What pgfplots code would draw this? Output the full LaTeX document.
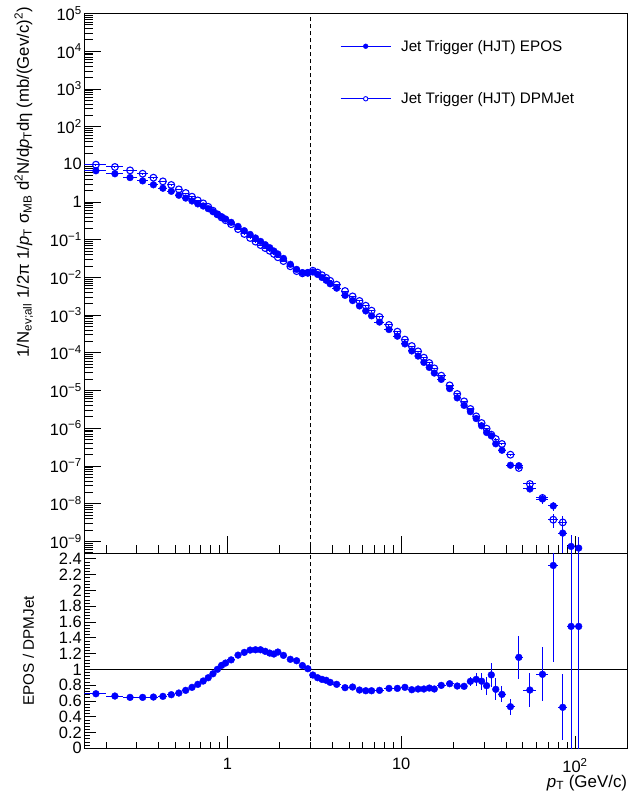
\documentclass[border=0pt]{standalone}
\usepackage{fontspec}
\setmainfont{Liberation Sans}
\usepackage{pgfplots}
\pgfplotsset{compat=1.18}
\usepackage{pgfplotstable}

\pgfplotstableread{
x xe y ye
0.175 0.025 6.74 0.07
0.225 0.025 5.61 0.06
0.275 0.025 4.44 0.05
0.325 0.025 3.63 0.04
0.375 0.025 2.86 0.03
0.425 0.025 2.32 0.02
0.475 0.025 1.92 0.02
0.525 0.025 1.51 0.015
0.575 0.025 1.27 0.013
0.625 0.025 1.065 0.011
0.675 0.025 0.891 0.009
0.725 0.025 0.782 0.008
0.775 0.025 0.665 0.007
0.825 0.025 0.553 0.006
0.875 0.025 0.470 0.005
0.925 0.025 0.407 0.004
0.975 0.025 0.354 0.004
1.05 0.05 0.288 0.003
1.15 0.05 0.225 0.002
1.25 0.05 0.173 0.002
1.35 0.05 0.138 0.0015
1.45 0.05 0.111 0.0012
1.55 0.05 0.090 0.001
1.65 0.05 0.0736 0.0008
1.75 0.05 0.0613 0.0007
1.85 0.05 0.050 0.0006
1.95 0.05 0.0417 0.0005
2.1 0.1 0.0319 0.0004
2.3 0.1 0.0222 0.0003
2.5 0.1 0.0163 0.0002
2.7 0.1 0.0134 0.0002
2.9 0.1 0.0133 0.0002
3.1 0.1 0.0139 0.0002
3.3 0.1 0.0120 0.0002
3.5 0.1 0.00995 0.00015
3.7 0.1 0.00835 0.00013
3.9 0.1 0.00676 0.0001
4.25 0.25 0.00518 0.00008
4.75 0.25 0.00334 0.00005
5.25 0.25 0.00243 0.00004
5.75 0.25 0.00175 0.00003
6.25 0.25 0.00129 0.00002
6.75 0.25 0.000955 0.000015
7.5 0.5 0.000653 0.00001
8.5 0.5 0.000414 0.000007
9.5 0.5 0.000276 0.000005
10.5 0.5 0.000172 0.000004
11.5 0.5 0.000112 0.000003
12.5 0.5 8.19e-5 2e-6
13.5 0.5 5.56e-5 1.5e-6
14.5 0.5 4.09e-5 1.2e-6
15.5 0.5 2.90e-5 1e-6
17 1 1.97e-5 6e-7
19 1 1.12e-5 4e-7
21 1 6.37e-6 2.5e-7
23 1 4.03e-6 1.8e-7
25 1 2.74e-6 1.5e-7
27 1 1.80e-6 1.1e-7
29 1 1.16e-6 8e-8
31 1 7.69e-7 6e-8
33 1 6.26e-7 5e-8
35 1 3.85e-7 4e-8
38 2 2.60e-7 2e-8
42.5 2.5 1.04e-7 1.1e-8
47.5 2.5 1.01e-7 1.2e-8
55 5 2.44e-8 3e-9
65 5 1.32e-8 3.4e-9
75 5 8.66e-9 2.2e-9
85 5 1.65e-9 1.55e-9
95 5 7.3e-10 7.2e-10
105 5 6.6e-10 6.5e-10
}\epos

\pgfplotstableread{
x xe y ye
0.175 0.025 9.76 0.1
0.225 0.025 8.48 0.08
0.275 0.025 6.89 0.07
0.325 0.025 5.63 0.06
0.375 0.025 4.41 0.04
0.425 0.025 3.52 0.03
0.475 0.025 2.83 0.03
0.525 0.025 2.16 0.02
0.575 0.025 1.73 0.02
0.625 0.025 1.38 0.014
0.675 0.025 1.10 0.011
0.725 0.025 0.918 0.009
0.775 0.025 0.744 0.007
0.825 0.025 0.586 0.006
0.875 0.025 0.470 0.005
0.925 0.025 0.388 0.004
0.975 0.025 0.328 0.003
1.05 0.05 0.257 0.003
1.15 0.05 0.191 0.002
1.25 0.05 0.142 0.0015
1.35 0.05 0.111 0.0012
1.45 0.05 0.0889 0.001
1.55 0.05 0.0721 0.0008
1.65 0.05 0.0599 0.0007
1.75 0.05 0.0508 0.0006
1.85 0.05 0.0419 0.0005
1.95 0.05 0.0342 0.0004
2.1 0.1 0.0271 0.0003
2.3 0.1 0.0197 0.0002
2.5 0.1 0.0147 0.0002
2.7 0.1 0.0128 0.0002
2.9 0.1 0.0132 0.0002
3.1 0.1 0.0150 0.0002
3.3 0.1 0.0134 0.0002
3.5 0.1 0.0114 0.00015
3.7 0.1 0.0097 0.00013
3.9 0.1 0.0081 0.0001
4.25 0.25 0.0064 0.00008
4.75 0.25 0.00435 0.00006
5.25 0.25 0.00313 0.00004
5.75 0.25 0.00237 0.00003
6.25 0.25 0.00177 0.00002
6.75 0.25 0.00131 0.000015
7.5 0.5 0.00089 0.00001
8.5 0.5 0.000546 0.000007
9.5 0.5 0.000363 0.000005
10.5 0.5 0.000223 0.000004
11.5 0.5 0.000151 0.000003
12.5 0.5 0.000109 2e-6
13.5 0.5 7.41e-5 1.5e-6
14.5 0.5 5.36e-5 1.2e-6
15.5 0.5 3.86e-5 1e-6
17 1 2.47e-5 6e-7
19 1 1.37e-5 4e-7
21 1 8.07e-6 3e-7
23 1 5.14e-6 2e-7
25 1 3.23e-6 1.5e-7
27 1 2.06e-6 1.1e-7
29 1 1.37e-6 8e-8
31 1 9.7e-7 6e-8
33 1 6.73e-7 5e-8
35 1 5.16e-7 4e-8
38 2 3.81e-7 2.5e-8
42.5 2.5 1.98e-7 1.5e-8
47.5 2.5 8.8e-8 1e-8
55 5 3.31e-8 4e-9
65 5 1.41e-8 2e-9
75 5 3.74e-9 1.5e-9
85 5 3.17e-9 1.4e-9
}\dpm

\pgfplotstableread{
x xe y ye
0.175 0.025 0.691 0.005
0.225 0.025 0.662 0.005
0.275 0.025 0.645 0.005
0.325 0.025 0.645 0.005
0.375 0.025 0.649 0.005
0.425 0.025 0.658 0.005
0.475 0.025 0.679 0.005
0.525 0.025 0.700 0.005
0.575 0.025 0.734 0.005
0.625 0.025 0.772 0.005
0.675 0.025 0.810 0.005
0.725 0.025 0.852 0.005
0.775 0.025 0.894 0.005
0.825 0.025 0.944 0.005
0.875 0.025 1.000 0.005
0.925 0.025 1.050 0.005
0.975 0.025 1.080 0.005
1.05 0.05 1.120 0.005
1.15 0.05 1.180 0.005
1.25 0.05 1.215 0.005
1.35 0.05 1.244 0.005
1.45 0.05 1.248 0.005
1.55 0.05 1.248 0.005
1.65 0.05 1.228 0.005
1.75 0.05 1.206 0.005
1.85 0.05 1.194 0.005
1.95 0.05 1.219 0.005
2.1 0.1 1.177 0.005
2.3 0.1 1.127 0.005
2.5 0.1 1.109 0.006
2.7 0.1 1.048 0.006
2.9 0.1 1.008 0.006
3.1 0.1 0.928 0.006
3.3 0.1 0.894 0.006
3.5 0.1 0.873 0.006
3.7 0.1 0.861 0.006
3.9 0.1 0.835 0.006
4.25 0.25 0.810 0.007
4.75 0.25 0.768 0.007
5.25 0.25 0.776 0.007
5.75 0.25 0.738 0.008
6.25 0.25 0.729 0.008
6.75 0.25 0.729 0.008
7.5 0.5 0.734 0.008
8.5 0.5 0.759 0.01
9.5 0.5 0.759 0.01
10.5 0.5 0.772 0.012
11.5 0.5 0.742 0.012
12.5 0.5 0.751 0.015
13.5 0.5 0.751 0.015
14.5 0.5 0.763 0.018
15.5 0.5 0.751 0.02
17 1 0.797 0.025
19 1 0.818 0.03
21 1 0.789 0.035
23 1 0.785 0.04
25 1 0.848 0.06
27 1 0.873 0.08
29 1 0.850 0.11
31 1 0.793 0.115
33 1 0.930 0.15
35 1 0.747 0.14
38 2 0.683 0.10
42.5 2.5 0.527 0.10
47.5 2.5 1.152 0.27
55 5 0.738 0.21
65 5 0.937 0.34
75 5 2.316 1.22
85 5 0.519 0.42
95 5 1.544 2.5
105 5 1.544 2.5
}\ratio

\begin{document}
\begin{tikzpicture}[x=1bp,y=1bp]
\useasboundingbox (0,0) rectangle (639,798);

\begin{axis}[
  at={(84.3bp,244.7bp)}, anchor=south west,
  scale only axis, width=543bp, height=539.8bp,
  xmode=log, ymode=log, xmin=0.15, xmax=200, ymin=4.8e-10, ymax=1e5,
  tick align=inside, xtick pos=bottom, ytick pos=left,
  axis line style={line width=0.9bp},
  tick style={black, line width=0.7bp},
  major tick length=17bp, minor tick length=8.5bp,
  xtick={1,10,100}, xticklabels={,,},
  minor xtick={0.2,0.3,0.4,0.5,0.6,0.7,0.8,0.9,2,3,4,5,6,7,8,9,20,30,40,50,60,70,80,90,200},
  ytick={1e-9,1e-8,1e-7,1e-6,1e-5,1e-4,1e-3,1e-2,1e-1,1,10,1e2,1e3,1e4,1e5},
  yticklabels={10\textsuperscript{−9},10\textsuperscript{−8},10\textsuperscript{−7},10\textsuperscript{−6},10\textsuperscript{−5},10\textsuperscript{−4},10\textsuperscript{−3},10\textsuperscript{−2},10\textsuperscript{−1},1,10,10\textsuperscript{2},10\textsuperscript{3},10\textsuperscript{4},10\textsuperscript{5}},
  minor ytick={5e-10,6e-10,7e-10,8e-10,9e-10,
    2e-9,3e-9,4e-9,5e-9,6e-9,7e-9,8e-9,9e-9,
    2e-8,3e-8,4e-8,5e-8,6e-8,7e-8,8e-8,9e-8,
    2e-7,3e-7,4e-7,5e-7,6e-7,7e-7,8e-7,9e-7,
    2e-6,3e-6,4e-6,5e-6,6e-6,7e-6,8e-6,9e-6,
    2e-5,3e-5,4e-5,5e-5,6e-5,7e-5,8e-5,9e-5,
    2e-4,3e-4,4e-4,5e-4,6e-4,7e-4,8e-4,9e-4,
    2e-3,3e-3,4e-3,5e-3,6e-3,7e-3,8e-3,9e-3,
    2e-2,3e-2,4e-2,5e-2,6e-2,7e-2,8e-2,9e-2,
    0.2,0.3,0.4,0.5,0.6,0.7,0.8,0.9,
    2,3,4,5,6,7,8,9,
    20,30,40,50,60,70,80,90,
    200,300,400,500,600,700,800,900,
    2000,3000,4000,5000,6000,7000,8000,9000,
    2e4,3e4,4e4,5e4,6e4,7e4,8e4,9e4},
  tick label style={font=\fontsize{16.5}{18}\selectfont},
  yticklabel style={xshift=1bp},
  ylabel={1/N\textsubscript{ev;all} 1/2π 1/\textit{p}\textsubscript{T} σ\textsubscript{MB} d\textsuperscript{2}N/d\textit{p}\textsubscript{T}dη (mb/(Gev/c)\textsuperscript{2})},
  ylabel style={at={(axis description cs:-0.1289,1.0120)}, anchor=north east, inner sep=0pt,
    font=\fontsize{16.8}{18}\selectfont},
  legend style={draw=none, fill=none, at={(0.471,0.955)}, anchor=north west,
    font=\fontsize{15.3}{17}\selectfont, row sep=36bp, inner sep=0pt,
    /tikz/every odd column/.append style={column sep=8bp}},
  legend cell align=left,
]
\addlegendimage{legend image code/.code={\draw[blue, solid, line width=0.9bp] (0bp,0bp) -- (50bp,0bp); \fill[blue] (25bp,0bp) circle (2.4bp);}}
\addlegendentry{Jet Trigger (HJT) EPOS}
\addlegendimage{legend image code/.code={\draw[blue, solid, line width=0.9bp] (0bp,0bp) -- (22.6bp,0bp); \draw[blue, solid, line width=0.9bp] (27.4bp,0bp) -- (50bp,0bp); \draw[blue, solid, line width=0.9bp] (25bp,0bp) circle (2.2bp);}}
\addlegendentry{Jet Trigger (HJT) DPMJet}
\draw[black, line width=0.9bp, dash pattern=on 4bp off 3bp] (axis cs:3,4.8e-10) -- (axis cs:3,1e5);
\addplot[forget plot, blue, mark=*, mark size=3.4bp, only marks,
    error bars/.cd, x dir=both, x explicit, y dir=both, y explicit,
    error bar style={blue, line width=1bp}, error mark=none]
    table[x=x, y=y, x error=xe, y error=ye] {\epos};
\addplot[forget plot, blue, mark=o, mark size=3.4bp, only marks, mark options={line width=1.1bp},
    error bars/.cd, x dir=both, x explicit, y dir=both, y explicit,
    error bar style={blue, line width=1bp}, error mark=none]
    table[x=x, y=y, x error=xe, y error=ye] {\dpm};
\end{axis}

\begin{axis}[
  at={(84.3bp,49.7bp)}, anchor=south west,
  scale only axis, width=543bp, height=195bp,
  xmode=log, xmin=0.15, xmax=200, ymin=0, ymax=2.47,
  tick align=inside, xtick pos=bottom, ytick pos=left,
  axis line style={line width=0.9bp},
  tick style={black, line width=0.7bp},
  major tick length=12bp, minor tick length=6bp,
  xtick={1,10,100}, xticklabels={1,10,10\textsuperscript{2}},
  minor xtick={0.2,0.3,0.4,0.5,0.6,0.7,0.8,0.9,2,3,4,5,6,7,8,9,20,30,40,50,60,70,80,90,200},
  xticklabel style={yshift=-6.5bp},
  ytick={0,0.2,0.4,0.6,0.8,1,1.2,1.4,1.6,1.8,2,2.2,2.4},
  minor y tick num=4,
  /pgf/number format/assume math mode=true,
  tick label style={font=\fontsize{16.5}{18}\selectfont},
  yticklabel style={xshift=1bp},
  ylabel={EPOS / DPMJet},
  ylabel style={at={(axis description cs:-0.1028,0.5)}, anchor=center, inner sep=0pt,
    font=\fontsize{15.3}{17}\selectfont},
  xlabel={\textit{p}\textsubscript{T} (GeV/c)},
  xlabel style={at={(axis description cs:1,0)}, anchor=base east, inner sep=0pt,
    yshift=-39bp, font=\fontsize{17}{19}\selectfont},
]
\draw[black, line width=0.9bp] (axis cs:0.15,1) -- (axis cs:200,1);
\draw[black, line width=0.9bp, dash pattern=on 4bp off 3bp] (axis cs:3,0) -- (axis cs:3,2.47);
\addplot[blue, mark=*, mark size=3.4bp, only marks,
    error bars/.cd, x dir=both, x explicit, y dir=both, y explicit,
    error bar style={blue, line width=1bp}, error mark=none]
    table[x=x, y=y, x error=xe, y error=ye] {\ratio};
\end{axis}
\end{tikzpicture}
\end{document}
